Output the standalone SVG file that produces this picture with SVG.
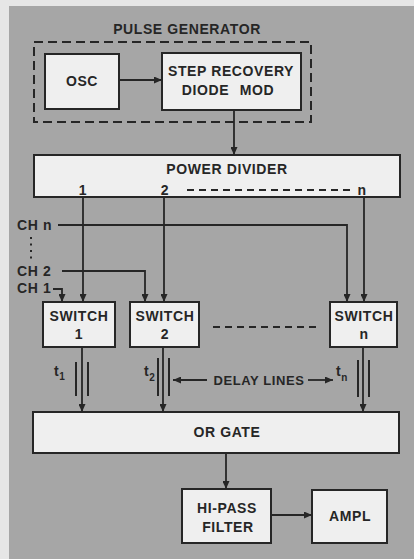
<svg xmlns="http://www.w3.org/2000/svg" width="414" height="559" viewBox="0 0 414 559">
<style>
.box{fill:#efefef;stroke:#262626;stroke-width:2}
.dash{fill:none;stroke:#262626;stroke-width:2;stroke-dasharray:9 5}
.dots{fill:none;stroke:#262626;stroke-width:2;stroke-dasharray:7 5}
.ln{fill:none;stroke:#262626;stroke-width:1.8}
.dl{fill:none;stroke:#262626;stroke-width:2}
.arr{marker-end:url(#ah)}
text{font-family:"Liberation Sans",Arial,sans-serif;font-weight:bold;font-size:14px;fill:#262626;letter-spacing:0.6px}
.c{text-anchor:middle}
.sub{font-size:10px}
</style>
<defs>
<marker id="ah" markerUnits="userSpaceOnUse" markerWidth="8" markerHeight="7" refX="8" refY="3.5" orient="auto">
<path d="M0,0 L8,3.5 L0,7 z" fill="#262626"/>
</marker>
</defs>
<rect x="0" y="0" width="414" height="559" fill="#e6e6e6"/>
<rect x="9" y="6" width="405" height="553" fill="#a6a6a6"/>

<g id="pulse-generator">
<rect class="dash" x="34" y="42" width="277" height="80"/>
<text class="c" x="187" y="34">PULSE GENERATOR</text>
</g>
<g id="osc">
<rect class="box" x="45" y="54" width="74" height="55"/>
<text class="c" x="82" y="86">OSC</text>
</g>
<g id="srd-mod">
<rect class="box" x="162" y="53" width="139" height="57"/>
<text class="c" x="231" y="76">STEP RECOVERY</text>
<text class="c" x="228" y="95" word-spacing="6">DIODE MOD</text>
</g>
<g id="power-divider">
<rect class="box" x="34" y="155" width="366" height="42"/>
<text class="c" x="227" y="174">POWER DIVIDER</text>
<text class="c" x="83" y="195">1</text>
<text class="c" x="165" y="195">2</text>
<line class="dots" x1="187" y1="190" x2="352" y2="190"/>
<text class="c" x="362" y="195">n</text>
</g>
<g id="switch-1">
<rect class="box" x="43" y="302" width="72" height="45"/>
<text class="c" x="79" y="321">SWITCH</text>
<text class="c" x="79" y="339">1</text>
</g>
<g id="switch-2">
<rect class="box" x="130" y="302" width="69" height="45"/>
<text class="c" x="165" y="321">SWITCH</text>
<text class="c" x="165" y="339">2</text>
</g>
<line class="dots" x1="213" y1="327" x2="318" y2="327"/>
<g id="switch-n">
<rect class="box" x="330" y="302" width="67" height="45"/>
<text class="c" x="364" y="321">SWITCH</text>
<text class="c" x="364" y="339">n</text>
</g>
<g id="or-gate">
<rect class="box" x="33" y="412" width="366" height="41"/>
<text class="c" x="227" y="437">OR GATE</text>
</g>
<g id="hi-pass-filter">
<rect class="box" x="182" y="489" width="89" height="54"/>
<text class="c" x="227" y="513">HI-PASS</text>
<text class="c" x="228" y="532">FILTER</text>
</g>
<g id="ampl">
<rect class="box" x="312" y="490" width="75" height="53"/>
<text class="c" x="350" y="521">AMPL</text>
</g>
<g id="channel-labels">
<text x="17" y="230">CH n</text>
<text x="17" y="276">CH 2</text>
<text x="17" y="293">CH 1</text>
<line x1="31" y1="237" x2="31" y2="261" stroke="#262626" stroke-width="2" stroke-dasharray="2 4.5"/>
</g>
<g id="connectors">
<path class="ln arr" d="M119,80 H162"/>
<path class="ln arr" d="M234,110 V155"/>
<path class="ln arr" d="M83,197 V302"/>
<path class="ln arr" d="M164,197 V302"/>
<path class="ln arr" d="M364,197 V302"/>
<path class="ln arr" d="M58,225 H347 V302"/>
<path class="ln arr" d="M62,271 H145 V302"/>
<path class="ln arr" d="M53,289 H62 V302"/>
<path class="ln arr" d="M82,347 V412"/>
<path class="dl" d="M76,362 V396 M88,362 V396"/>
<path class="ln arr" d="M163,347 V412"/>
<path class="dl" d="M158,358 V396 M169,358 V396"/>
<path class="ln arr" d="M363,347 V412"/>
<path class="dl" d="M358,360 V397 M369,360 V397"/>
<path class="ln arr" d="M226,453 V489"/>
<path class="ln arr" d="M271,515 H312"/>
<path class="ln arr" d="M207,380 H173"/>
<path class="ln arr" d="M308,380 H333"/>
</g>
<g id="delay-labels">
<text x="54" y="376">t<tspan class="sub" dy="4">1</tspan></text>
<text x="144" y="376">t<tspan class="sub" dy="5">2</tspan></text>
<text x="336" y="376">t<tspan class="sub" dy="5">n</tspan></text>
<text class="c" x="259" y="385" style="font-size:13px">DELAY LINES</text>
</g>
</svg>
